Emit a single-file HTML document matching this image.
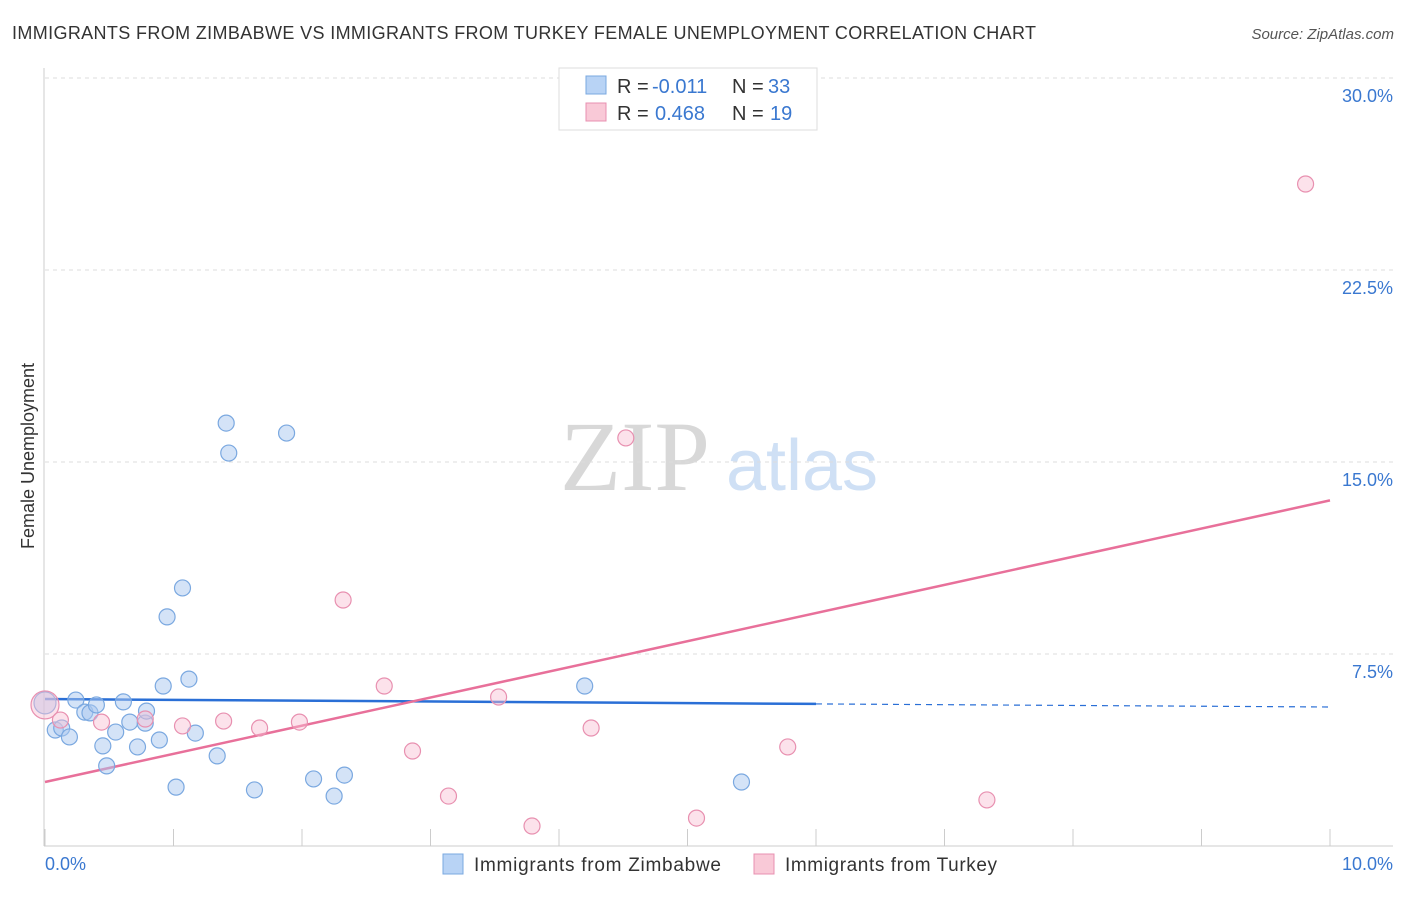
<!DOCTYPE html>
<html><head><meta charset="utf-8">
<style>
body{margin:0;background:#fff;font-family:"Liberation Sans",sans-serif;}
</style></head>
<body>
<svg id="chart" width="1406" height="892" xmlns="http://www.w3.org/2000/svg" font-family="Liberation Sans, sans-serif">
<text x="12" y="39" font-size="18" fill="#333" textLength="1024">IMMIGRANTS FROM ZIMBABWE VS IMMIGRANTS FROM TURKEY FEMALE UNEMPLOYMENT CORRELATION CHART</text>
<text x="1394" y="39" font-size="15" fill="#555" font-style="italic" text-anchor="end">Source: ZipAtlas.com</text>
<text x="34" y="456" font-size="18" fill="#333" text-anchor="middle" transform="rotate(-90 34 456)">Female Unemployment</text>
<g>
<text x="635" y="490" font-size="100" fill="#d8d8d8" style="font-family:'Liberation Serif',serif" text-anchor="middle">ZIP</text>
<text x="802" y="490" font-size="72" fill="#cfe0f5" text-anchor="middle">atlas</text>
</g>
<g id="grid"></g>
<g id="axes"></g>
<g id="trends"></g>
<g id="points"></g>
<g>
<rect x="559" y="68" width="258" height="62" fill="#fff" stroke="#ddd"/>
<rect x="586" y="76" width="20" height="18" fill="#b8d3f5" stroke="#7aa8e0"/>
<text x="617" y="93" font-size="20" fill="#333">R =</text>
<text x="652" y="93" font-size="20" fill="#3a78d0">-0.011</text>
<text x="732" y="93" font-size="20" fill="#333">N =</text>
<text x="768" y="93" font-size="20" fill="#3a78d0">33</text>
<rect x="586" y="103" width="20" height="18" fill="#f9c9d7" stroke="#e890b0"/>
<text x="617" y="120" font-size="20" fill="#333">R =</text>
<text x="655" y="120" font-size="20" fill="#3a78d0">0.468</text>
<text x="732" y="120" font-size="20" fill="#333">N =</text>
<text x="770" y="120" font-size="20" fill="#3a78d0">19</text>
</g>
<g>
<rect x="443" y="854" width="20" height="20" fill="#b8d3f5" stroke="#7aa8e0"/>
<text x="474" y="871" font-size="19" fill="#333" textLength="247">Immigrants from Zimbabwe</text>
<rect x="754" y="854" width="20" height="20" fill="#f9c9d7" stroke="#e890b0"/>
<text x="785" y="871" font-size="19" fill="#333" textLength="212">Immigrants from Turkey</text>
</g>
</svg>
<script>
const zimX=[0.00,0.08,0.13,0.19,0.24,0.31,0.35,0.40,0.45,0.48,0.55,0.61,0.66,0.72,0.78,0.79,0.89,0.92,0.95,1.02,1.07,1.12,1.17,1.34,1.41,1.43,1.63,1.88,2.09,2.25,2.33,4.20,5.42];
const zimY=[5.59,4.53,4.61,4.26,5.70,5.23,5.20,5.51,3.91,3.13,4.45,5.63,4.84,3.87,4.80,5.27,4.14,6.25,8.95,2.30,10.08,6.52,4.41,3.52,16.52,15.35,2.19,16.13,2.62,1.95,2.77,6.25,2.50];
const turX=[0.00,0.12,0.44,0.78,1.07,1.39,1.67,1.98,2.32,2.64,2.86,3.14,3.53,3.79,4.25,4.52,5.07,5.78,7.33,9.81];
const turY=[5.51,4.92,4.84,4.96,4.69,4.88,4.61,4.84,9.61,6.25,3.71,1.95,5.82,0.78,4.61,15.94,1.09,3.87,1.80,25.86];
const zimTrend=[5.74,5.55,5.43];
const turTrend=[2.5,13.5];
const yTicks=[7.5,15,22.5,30];
const yTickLabels=["7.5%","15.0%","22.5%","30.0%"];
const xTicks=[0,1,2,3,4,5,6,7,8,9,10];
const NS="http://www.w3.org/2000/svg";
const sx=v=>45+v*128.5, sy=v=>846-v*25.6;
function mk(tag,attrs,parent){const e=document.createElementNS(NS,tag);for(const k in attrs)e.setAttribute(k,attrs[k]);parent.appendChild(e);return e;}
const grid=document.getElementById('grid'),axes=document.getElementById('axes'),tr=document.getElementById('trends'),pts=document.getElementById('points');
yTicks.forEach((t,i)=>{
 const l=mk('line',{x1:45,x2:1393,y1:sy(t),y2:sy(t),stroke:'#ddd','stroke-dasharray':'4,4'},grid);
 
 
 const tx=mk('text',{x:1393,y:sy(t)+24,'font-size':18,fill:'#3a78d0','text-anchor':'end'},axes);
 tx.textContent=yTickLabels[i];
 
 
});
const ax=mk('line',{x1:44,x2:44,y1:68,y2:846,stroke:'#ccc'},axes);


const bx=mk('line',{x1:44,x2:1393,y1:846,y2:846,stroke:'#ccc'},axes);


xTicks.forEach(t=>{
 const l=mk('line',{x1:sx(t),x2:sx(t),y1:829,y2:846,stroke:'#ccc'},axes);
 
 
});
[["0.0%",45,'start'],["10.0%",1393,'end']].forEach(a=>{
 const tx=mk('text',{x:a[1],y:870,'font-size':18,fill:'#3a78d0','text-anchor':a[2]},axes);
 tx.textContent=a[0];
 
 
});
function dot(x,y,fill,stroke,r,name){
 const c=mk('circle',{cx:sx(x),cy:sy(y),r:r,fill:fill,stroke:stroke,'stroke-width':1.2},pts);
 
 
}
zimX.forEach((x,i)=>dot(x,zimY[i],'rgba(170,200,240,0.5)','#7aa8e0',i==0?11:8,'zimbabwe-point'));
turX.forEach((x,i)=>dot(x,turY[i],'rgba(248,190,210,0.45)','#e890b0',i==0?14:8,'turkey-point'));
let l=mk('line',{x1:sx(0),y1:sy(zimTrend[0]),x2:sx(6),y2:sy(zimTrend[1]),stroke:'#2a6fd6','stroke-width':2.5},tr);


l=mk('line',{x1:sx(6),y1:sy(zimTrend[1]),x2:sx(10),y2:sy(zimTrend[2]),stroke:'#2a6fd6','stroke-width':1.2,'stroke-dasharray':'6,5'},tr);


l=mk('line',{x1:sx(0),y1:sy(turTrend[0]),x2:sx(10),y2:sy(turTrend[1]),stroke:'#e8709a','stroke-width':2.5},tr);


</script>
</body></html>
